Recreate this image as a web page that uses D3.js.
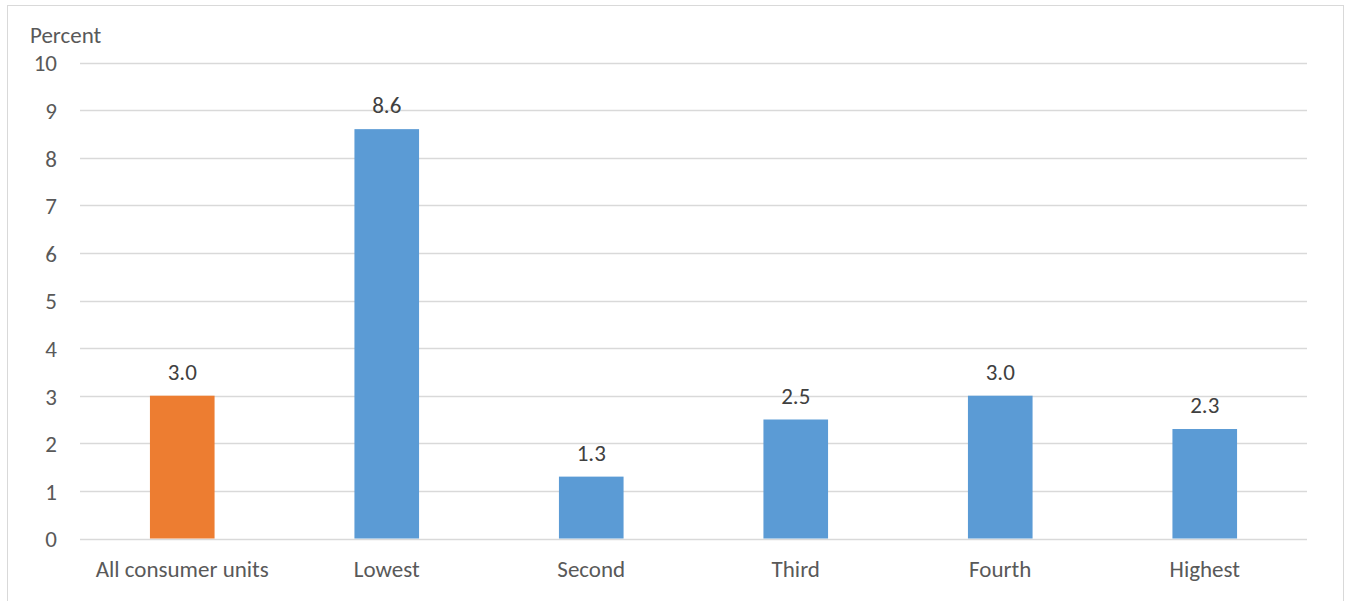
<!DOCTYPE html>
<html>
<head>
<meta charset="utf-8">
<script src="https://cdn.jsdelivr.net/npm/d3@7"></script>
<style>
  html, body { margin: 0; padding: 0; background: #fff; }
  svg { display: block; font-family: Carlito, "Open Sans", "Liberation Sans", sans-serif; }
</style>
</head>
<body>
<svg id="chart" width="1349" height="601"></svg>
<script>
// Share of spending by income quintile
const categories = ["All consumer units", "Lowest", "Second", "Third", "Fourth", "Highest"];
const values = [3.0, 8.6, 1.3, 2.5, 3.0, 2.3];
const yTicks = [0, 1, 2, 3, 4, 5, 6, 7, 8, 9, 10];

const FONT = "Carlito, 'Open Sans', 'Liberation Sans', sans-serif";
const FS = 23;

const svg = d3.select("#chart");

// outer frame
svg.append("rect")
  .attr("x", 7.5).attr("y", 5.5)
  .attr("width", 1336).attr("height", 610)
  .attr("fill", "#fff").attr("stroke", "#d9d9d9").attr("stroke-width", 1);

const x = d3.scaleBand()
  .domain(categories)
  .range([80, 1307])
  .paddingInner(0.684)
  .paddingOuter(0.342);

const y = d3.scaleLinear().domain([0, 10]).range([538.5, 62.5]);

// gridlines
svg.append("g")
  .selectAll("line")
  .data(yTicks)
  .join("line")
  .attr("x1", 80).attr("x2", 1307)
  .attr("y1", d => Math.round(y(d)) + 0.5)
  .attr("y2", d => Math.round(y(d)) + 0.5)
  .attr("stroke", "#d9d9d9")
  .attr("stroke-width", 1.5);

// y axis tick labels
const yAxis = d3.axisLeft(y).tickValues(yTicks).tickSize(0).tickPadding(0);
const yg = svg.append("g").attr("transform", "translate(57,1)").call(yAxis);
yg.select(".domain").remove();
yg.selectAll("text")
  .attr("font-size", FS)
  .attr("fill", "#595959")
  .attr("font-family", FONT);

svg.append("text")
  .attr("x", 30).attr("y", 43)
  .attr("font-size", FS)
  .attr("fill", "#595959")
  .text("Percent");

// bars
svg.append("g")
  .selectAll("rect")
  .data(values)
  .join("rect")
  .attr("x", (d, i) => x(categories[i]))
  .attr("width", x.bandwidth())
  .attr("y", d => y(d))
  .attr("height", d => y(0) - y(d))
  .attr("fill", (d, i) => i === 0 ? "#ed7d31" : "#5b9bd5");

// value labels
svg.append("g")
  .selectAll("text")
  .data(values)
  .join("text")
  .attr("x", (d, i) => x(categories[i]) + x.bandwidth() / 2)
  .attr("y", d => y(d) - 16)
  .attr("text-anchor", "middle")
  .attr("font-size", FS)
  .attr("fill", "#404040")
  .text(d => d.toFixed(1));

// x axis category labels
const xAxis = d3.axisBottom(x).tickSize(0).tickPadding(0);
const xg = svg.append("g").attr("transform", "translate(0,577)").call(xAxis);
xg.select(".domain").remove();
xg.selectAll("text")
  .attr("dy", 0)
  .attr("font-size", FS)
  .attr("fill", "#595959")
  .attr("font-family", FONT);
</script>
</body>
</html>
